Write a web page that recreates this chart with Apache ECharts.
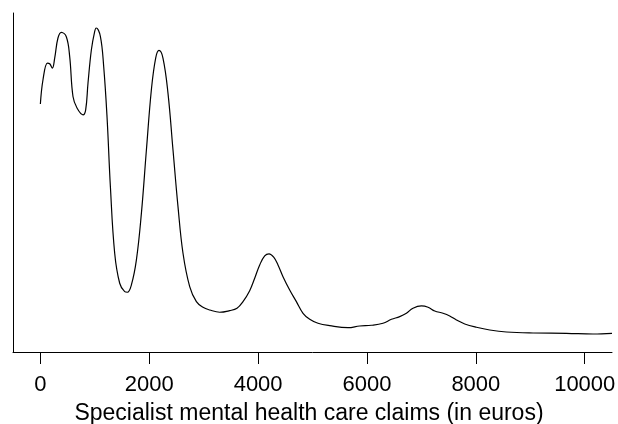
<!DOCTYPE html>
<html>
<head>
<meta charset="utf-8">
<script src="https://cdn.jsdelivr.net/npm/echarts@6/dist/echarts.min.js"></script>
<style>
  html, body { margin: 0; padding: 0; background: #fff; }
  #chart { width: 618px; height: 424px; }
</style>
</head>
<body>
<div id="chart"></div>
<script>
// claim amounts (euros) where the density curve was read
const claims = [
  0, 48, 129, 171, 220, 263, 323, 386, 478, 538, 599, 673, 783, 832, 875, 937,
  998, 1025, 1102, 1163, 1224, 1286, 1365, 1457, 1549, 1598, 1672, 1764, 1856,
  1948, 2039, 2118, 2179, 2252, 2344, 2436, 2528, 2620, 2743, 2866, 2987, 3110,
  3294, 3478, 3612, 3722, 3845, 3937, 4029, 4121, 4200, 4286, 4365, 4457, 4580,
  4703, 4825, 4948, 5100, 5315, 5651, 5866, 6081, 6294, 6449, 6601, 6724, 6845,
  7000, 7122, 7245, 7397, 7520, 7643, 7796, 8011, 8255, 8562, 9050, 9664, 10152,
  10501
];

// density (relative units) at each claim amount
const density = [
  234.2, 258.5, 275.2, 274.5, 270.2, 280.2, 300.2, 305.8, 301.2, 281.8, 241.8,
  230.2, 223.5, 228.5, 255.2, 288.5, 306.8, 310.2, 301.8, 271.8, 221.8, 151.8,
  85.2, 55.2, 46.8, 46.2, 53.5, 78.5, 125.2, 188.5, 248.5, 280.2, 287.8, 280.2,
  245.2, 188.5, 131.8, 85.2, 51.8, 36.8, 31.2, 28.5, 26.2, 27.8, 30.2, 36.8,
  47.8, 60.2, 73.5, 82.5, 84.5, 81.2, 73.5, 61.8, 48.5, 36.8, 25.2, 19.2, 15.2,
  12.8, 10.8, 12.5, 13.2, 15.2, 19.2, 21.8, 25.2, 30.2, 32.5, 31.2, 27.5, 25.2,
  22.5, 18.5, 14.5, 11.2, 8.5, 6.5, 5.5, 5.2, 4.5, 5.2
];

const xTicks = [0, 2000, 4000, 6000, 8000, 10000];

const chart = echarts.init(document.getElementById('chart'));

chart.setOption({
  animation: false,
  backgroundColor: '#fff',
  textStyle: { fontFamily: 'Liberation Sans' },
  title: {
    text: 'Specialist mental health care claims (in euros)',
    left: 'center',
    top: 397,
    textStyle: { fontSize: 23, fontWeight: 'normal', color: '#000', fontFamily: 'Liberation Sans' }
  },
  grid: {
    left: 13,
    right: 6,
    top: 13,
    bottom: 72,
    outerBoundsMode: 'none'
  },
  xAxis: {
    type: 'value',
    min: -503,
    max: 10501,
    axisLine: { show: true, onZero: false, lineStyle: { color: '#000', width: 1 } },
    axisTick: { show: true, length: 12, customValues: xTicks, lineStyle: { color: '#000' } },
    axisLabel: {
      customValues: xTicks,
      formatter: v => String(v),
      margin: 22,
      fontSize: 22,
      color: '#000',
      fontFamily: 'Liberation Sans'
    },
    splitLine: { show: false }
  },
  yAxis: {
    type: 'value',
    min: -13.5,
    max: 325.2,
    axisLine: { show: true, onZero: false, lineStyle: { color: '#000', width: 1 } },
    axisTick: { show: false },
    axisLabel: { show: false },
    splitLine: { show: false }
  },
  series: [{
    type: 'line',
    data: claims.map((c, i) => [c, density[i]]),
    smooth: 0.4,
    showSymbol: false,
    lineStyle: { color: '#000', width: 1.2 }
  }]
});
</script>
</body>
</html>
